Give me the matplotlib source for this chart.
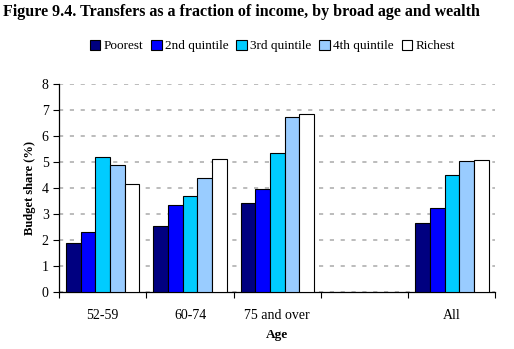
import numpy as np
import matplotlib
matplotlib.use("Agg")
import matplotlib.pyplot as plt

plt.rcParams['font.family'] = ['Liberation Serif', 'DejaVu Serif']

# data
ages = ['52-59', '60-74', '75 and over', '', 'All']
series = ['Poorest', '2nd quintile', '3rd quintile', '4th quintile', 'Richest']
poorest = [1.90, 2.55, 3.42, np.nan, 2.66]
second = [2.33, 3.35, 3.96, np.nan, 3.24]
third = [5.20, 3.70, 5.36, np.nan, 4.49]
fourth = [4.91, 4.40, 6.74, np.nan, 5.03]
richest = [4.17, 5.11, 6.86, np.nan, 5.09]
colors = ['#000080', '#0000FF', '#00CCFF', '#99CCFF', '#FFFFFF']

fig = plt.figure(figsize=(5.14, 3.49), dpi=100)
ax = fig.add_axes([0.115, 0.1625, 0.849, 0.5965])

x = np.arange(len(ages))
w = 0.168
for i, (vals, name) in enumerate(zip([poorest, second, third, fourth, richest], series)):
    ax.bar(x + (i - 2) * w, vals, w, color=colors[i], edgecolor='black',
           linewidth=0.8, label=name, zorder=3)

ax.set_xlim(-0.5, len(ages) - 0.5)
ax.set_ylim(0, 8)
ax.set_yticks(range(0, 9))
ax.set_xticks(x)
ax.set_xticklabels(ages, fontsize=10)
ax.tick_params(axis='x', length=0, pad=12)
ax.set_xticks(np.arange(-0.5, len(ages)), minor=True)
ax.tick_params(axis='x', which='minor', length=4, width=0.8)
ax.tick_params(axis='y', labelsize=10, length=4, width=0.8)
ax.yaxis.grid(True, linestyle=(0, (2.5, 4)), color='#b0b0b0', linewidth=1.2, zorder=0)
for s in ['top', 'right']:
    ax.spines[s].set_visible(False)
ax.spines['left'].set_linewidth(0.9)
ax.spines['bottom'].set_linewidth(0.9)

ax.set_ylabel('Budget share (%)', fontsize=9, fontweight='bold', labelpad=4)
ax.set_xlabel('Age', fontsize=9.5, fontweight='bold', labelpad=5)

fig.text(0.006, 0.965, 'Figure 9.4. Transfers as a fraction of income, by broad age and wealth',
         fontsize=11.5, fontweight='bold', va='center', ha='left')

fig.legend(loc='center', bbox_to_anchor=(0.53, 0.868), ncol=5, frameon=False,
           fontsize=9.5, handlelength=0.8, handleheight=0.8, handletextpad=0.25,
           columnspacing=0.6)

fig.savefig('out.png', dpi=100)
